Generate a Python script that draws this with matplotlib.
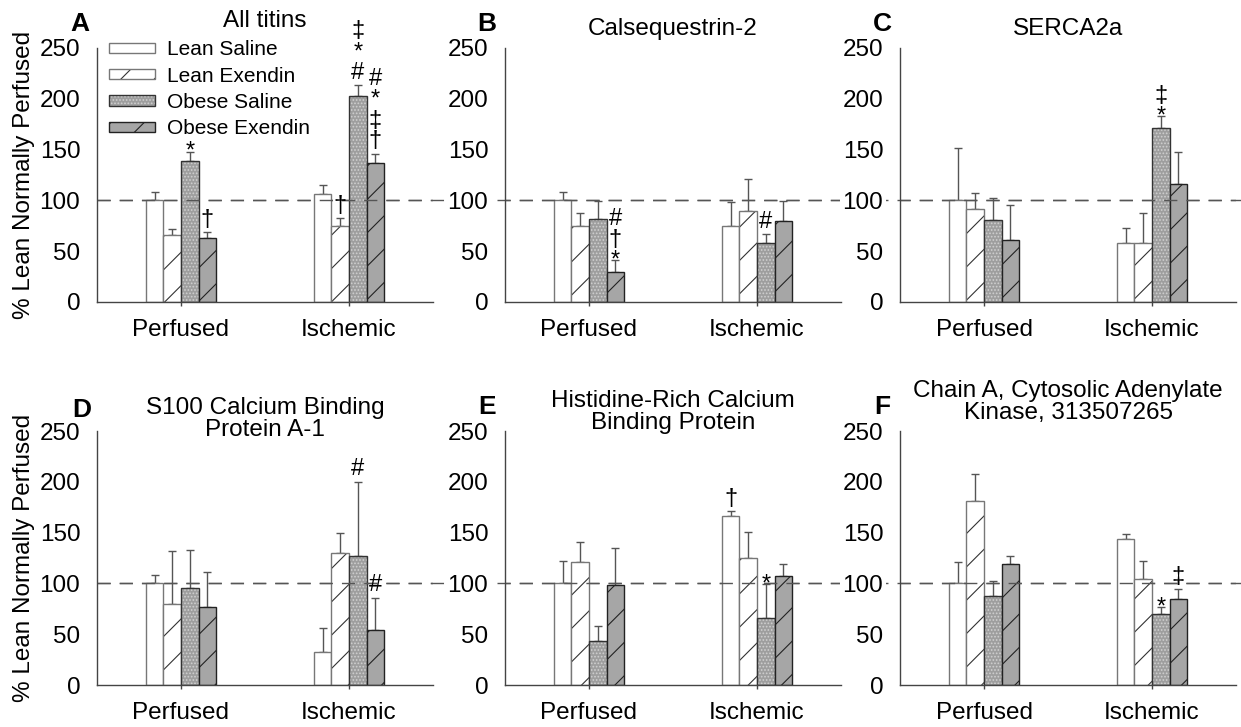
import numpy as np
import matplotlib.pyplot as plt
from matplotlib.lines import Line2D
from matplotlib.patches import Patch
from matplotlib.legend_handler import HandlerTuple
import matplotlib.transforms as mtransforms

plt.rcParams['font.family'] = ['Liberation Sans', 'DejaVu Sans']
plt.rcParams['hatch.linewidth'] = 0.8

groups = ['Perfused', 'Ischemic']
series = ['Lean Saline', 'Lean Exendin', 'Obese Saline', 'Obese Exendin']

titles = ['All titins', 'Calsequestrin-2', 'SERCA2a',
          'S100 Calcium Binding\nProtein A-1',
          'Histidine-Rich Calcium\nBinding Protein',
          'Chain A, Cytosolic Adenylate\nKinase, 313507265']
letters = ['A', 'B', 'C', 'D', 'E', 'F']

# mean values, [perfused, ischemic] x 4 series
mean_A = [[100, 66, 139, 63], [106, 75, 203, 137]]
err_A = [[8, 6, 9, 6], [9.5, 7.5, 10.5, 9]]
mean_B = [[100, 75, 82, 30], [75, 90, 58, 80]]
err_B = [[8, 13, 17, 11], [23, 31, 8.5, 19]]
mean_C = [[100, 92, 81, 61], [58, 58, 171, 116]]
err_C = [[52, 15, 21, 34], [15, 30, 12, 31.5]]
mean_D = [[100, 80, 95, 77], [32, 130, 127, 54]]
err_D = [[8, 52, 38, 34], [24, 20, 73, 32]]
mean_E = [[100, 121, 43, 98], [166, 125, 66, 107]]
err_E = [[22, 20, 15, 37], [5, 26, 33, 12]]
mean_F = [[100, 181, 88, 119], [144, 104, 70, 85]]
err_F = [[21, 27, 14, 8], [5, 18, 6.5, 9.5]]

# significance marks: (group, series, text)
marks_A = [(0, 2, '*'), (0, 3, '†'), (1, 1, '†'), (1, 2, '‡\n*\n#'), (1, 3, '#\n*\n‡\n†')]
marks_B = [(0, 3, '#\n†\n*'), (1, 2, '#')]
marks_C = [(1, 2, '‡\n*')]
marks_D = [(1, 2, '#'), (1, 3, '#')]
marks_E = [(1, 0, '†'), (1, 2, '*')]
marks_F = [(1, 2, '*'), (1, 3, '‡')]

means = [mean_A, mean_B, mean_C, mean_D, mean_E, mean_F]
errs = [err_A, err_B, err_C, err_D, err_E, err_F]
marks = [marks_A, marks_B, marks_C, marks_D, marks_E, marks_F]

W, H = 1241, 727
fig = plt.figure(figsize=(W / 100, H / 100), dpi=100)

col_left = [97, 505, 900]
row_bottom = [302, 685]   # pixel y of value 0
ax_w, ax_h = 336, 254

# title centre (pixels) and letter position
title_y = [21, 29, 29, 419, 412, 402]
letter_xy = [(80, 24), (487, 24), (882, 24), (82, 410), (487, 407), (882, 407)]

bar_w = 0.105
offsets = (np.arange(4) - 1.5) * bar_w
gray_edge = '#444444'
ref_kw = dict(color='#555555', lw=1, dashes=(9.5, 6.5))
x = np.arange(len(groups))

for i in range(6):
    r, c = divmod(i, 3)
    ax = fig.add_axes([col_left[c] / W, 1 - row_bottom[r] / H, ax_w / W, ax_h / H])
    ax.patch.set_alpha(0)
    m = np.array(means[i], dtype=float)
    e = np.array(errs[i], dtype=float)

    handles = []
    for s in range(4):
        xs = x + offsets[s]
        vals = m[:, s]
        if s == 0:
            b = ax.bar(xs, vals, bar_w, color='white', edgecolor='#777777', lw=1, zorder=2)
            h = b.patches[0]
        elif s == 1:
            ax.bar(xs, vals, bar_w, color='white', edgecolor='#333333', hatch='/', lw=0, zorder=2)
            ax.bar(xs, vals, bar_w, fill=False, edgecolor='#777777', lw=1, zorder=2)
            h = (Patch(facecolor='white', edgecolor='#333333', hatch='/', lw=0),
                 Patch(fill=False, edgecolor='#777777', lw=1))
        elif s == 2:
            ax.bar(xs, vals, bar_w, color='#9e9e9e', edgecolor='#d0d0d0', hatch='.....', lw=0, zorder=2)
            ax.bar(xs, vals, bar_w, fill=False, edgecolor='#333333', lw=1, zorder=2)
            h = (Patch(facecolor='#9e9e9e', edgecolor='#d0d0d0', hatch='.....', lw=0),
                 Patch(fill=False, edgecolor='#333333', lw=1))
        else:
            ax.bar(xs, vals, bar_w, color='#a6a6a6', edgecolor='#222222', hatch='/', lw=0, zorder=2)
            ax.bar(xs, vals, bar_w, fill=False, edgecolor='#222222', lw=1, zorder=2)
            h = (Patch(facecolor='#a6a6a6', edgecolor='#222222', hatch='/', lw=0),
                 Patch(fill=False, edgecolor='#222222', lw=1))
        handles.append(h)
        ax.errorbar(xs, vals, yerr=[np.zeros(2), e[:, s]], fmt='none',
                    ecolor='#555555', elinewidth=1, capsize=3, capthick=1, zorder=1)

    for g, s, txt in marks[i]:
        # asterisk glyph sits high in its line, so pull it down onto the cap
        dy = -8 if txt.endswith('*') else 1
        ax.annotate(txt, xy=(x[g] + offsets[s], m[g, s] + e[g, s]), xytext=(0, dy),
                    textcoords='offset points', ha='center', va='bottom',
                    fontsize=17, linespacing=0.92, annotation_clip=False)

    # reference line at 100: one across the row (behind), plus one over the bars
    trans = mtransforms.blended_transform_factory(fig.transFigure, ax.transData)
    if c == 0:
        fig.add_artist(Line2D([col_left[0] / W, 1], [100, 100], transform=trans,
                              zorder=-1, **ref_kw))
    ax.add_line(Line2D([col_left[0] / W, 1], [100, 100], transform=trans,
                       zorder=2.4, **ref_kw))

    ax.set_xlim(-0.5, 1.5)
    ax.set_ylim(0, 250)
    ax.set_yticks([0, 50, 100, 150, 200, 250])
    ax.set_xticks(x)
    ax.set_xticklabels(groups)
    ax.tick_params(axis='y', length=0, pad=12, labelsize=17.5)
    ax.tick_params(axis='x', length=3, width=1, color=gray_edge, pad=9, labelsize=17.5)
    for lab in ax.get_yticklabels():
        lab.set_bbox(dict(facecolor='white', edgecolor='none', pad=2))
    for sp in ['top', 'right']:
        ax.spines[sp].set_visible(False)
    for sp in ['left', 'bottom']:
        ax.spines[sp].set_color(gray_edge)
        ax.spines[sp].set_linewidth(1)

    cx = (col_left[c] + ax_w / 2) / W
    fig.text(cx, 1 - title_y[i] / H, titles[i], ha='center', va='center', fontsize=17.5,
             linespacing=1.0)
    lx, ly = letter_xy[i]
    fig.text(lx / W, 1 - ly / H, letters[i], ha='center', va='center', fontsize=19,
             fontweight='bold')

    if i == 0:
        ax.legend(handles, series, loc='upper left', bbox_to_anchor=(0.035, 1.03),
                  frameon=False, fontsize=15, handlelength=2.2, handleheight=0.4,
                  labelspacing=0.35, handletextpad=0.58, borderpad=0, borderaxespad=0,
                  handler_map={tuple: HandlerTuple(ndivide=1, pad=0)})

for r in range(2):
    yc = 1 - (row_bottom[r] - ax_h / 2) / H
    fig.text(24 / W, yc, '% Lean Normally Perfused', rotation=90, ha='center',
             va='center', fontsize=17.5)

fig.savefig('out.png', dpi=100)
